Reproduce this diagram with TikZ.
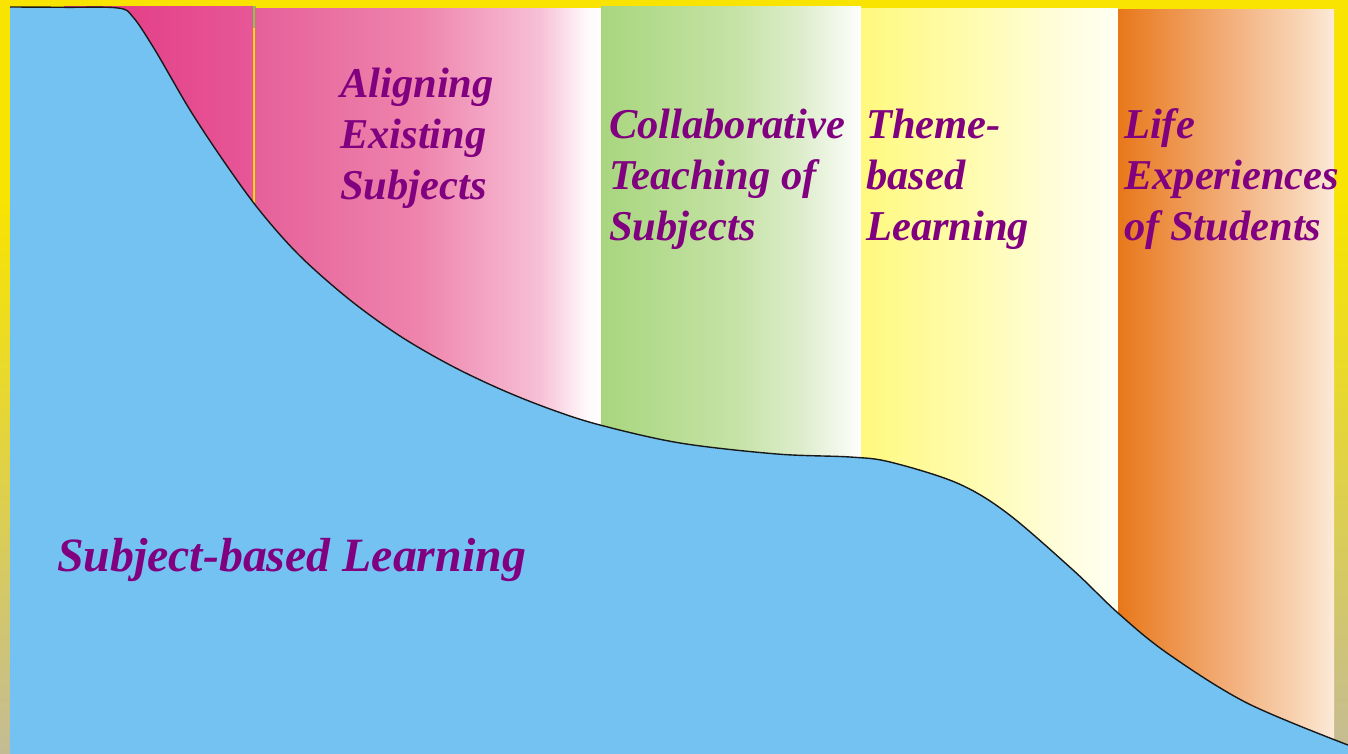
\documentclass[tikz,border=0pt]{standalone}
\usepackage{fontspec}
\setmainfont{Liberation Serif}
\definecolor{bgyel}{HTML}{F8E400}
\definecolor{bgmid}{HTML}{E9D92C}
\definecolor{bgtan}{HTML}{C4BB95}
\definecolor{magA}{HTML}{E23682}
\definecolor{magB}{HTML}{E75797}
\definecolor{pkA}{HTML}{E6609A}
\definecolor{pkB}{HTML}{EE84AC}
\definecolor{pkC}{HTML}{F7C0D6}
\definecolor{pkD}{HTML}{FFF8FB}
\definecolor{grA}{HTML}{A8D67E}
\definecolor{grB}{HTML}{C4E2A4}
\definecolor{grC}{HTML}{DDEDCC}
\definecolor{grD}{HTML}{F8FBF4}
\definecolor{ylA}{HTML}{FFF97E}
\definecolor{ylB}{HTML}{FFFCB8}
\definecolor{ylC}{HTML}{FFFEE4}
\definecolor{ylD}{HTML}{FFFFF2}
\definecolor{orA}{HTML}{E8781A}
\definecolor{orB}{HTML}{F2AD78}
\definecolor{orC}{HTML}{F8D4B4}
\definecolor{orD}{HTML}{FCEAD8}
\definecolor{sky}{HTML}{73C2F2}
\definecolor{labpurple}{HTML}{800080}
\definecolor{tinygreen}{HTML}{8CC63F}
\pgfdeclareverticalshading{bgshade}{100bp}{color(0bp)=(bgtan); color(25bp)=(bgtan); color(50bp)=(bgmid); color(62bp)=(bgyel); color(75bp)=(bgyel); color(100bp)=(bgyel)}
\pgfdeclarehorizontalshading{magshade}{100bp}{color(0bp)=(magA); color(25bp)=(magA); color(75bp)=(magB); color(100bp)=(magB)}
\pgfdeclarehorizontalshading{pinkshade}{100bp}{color(0bp)=(pkA); color(25bp)=(pkA); color(48.8bp)=(pkB); color(66.2bp)=(pkC); color(72.7bp)=(pkD); color(75bp)=(white); color(100bp)=(white)}
\pgfdeclarehorizontalshading{greenshade}{100bp}{color(0bp)=(grA); color(25bp)=(grA); color(50bp)=(grB); color(63.5bp)=(grC); color(73bp)=(grD); color(75bp)=(white); color(100bp)=(white)}
\pgfdeclarehorizontalshading{yellowshade}{100bp}{color(0bp)=(ylA); color(25bp)=(ylA); color(50bp)=(ylB); color(67.5bp)=(ylC); color(75bp)=(ylD); color(100bp)=(ylD)}
\pgfdeclarehorizontalshading{orangeshade}{100bp}{color(0bp)=(orA); color(25bp)=(orA); color(50bp)=(orB); color(67bp)=(orC); color(75bp)=(orD); color(100bp)=(orD)}
\tikzset{
  lbl/.style={anchor=base west, inner sep=0pt, text=labpurple,
    font=\fontsize{42.5}{51}\selectfont\bfseries\itshape},
  biglbl/.style={lbl, font=\fontsize{47.8}{56}\selectfont\bfseries\itshape},
  curveline/.style={draw=black!90, line width=1.4pt, line join=round}
}
\newcommand{\lines}[1]{\begin{tabular}[t]{@{}l@{}}#1\end{tabular}}
\begin{document}
\begin{tikzpicture}[x=1pt,y=-1pt]
\useasboundingbox (0,0) rectangle (1348,753);
% background
\shade[shading=bgshade] (0,0) rectangle (1348,753);
% bands
\shade[shading=magshade] (64,6) rectangle (253,700);
\fill[tinygreen] (253,6) rectangle (256,28);
\shade[shading=pinkshade] (255,8) rectangle (601,700);
\shade[shading=greenshade] (601,6) rectangle (861,700);
\shade[shading=yellowshade] (861,8) rectangle (1118,700);
\shade[shading=orangeshade] (1118,9) rectangle (1334,742);
% blue area
\fill[sky] (10,760) -- plot[smooth,tension=0.55] coordinates {(10,7) (65,7.3) (118,8) (133,17) (155,50) (190,110) (225,163) (260,211) (300,256) (350,300) (400,336) (450,365) (500,389) (550,409) (600,425) (680,443) (777,454) (850,457) (890,462) (957,483) (1007,513) (1073,570) (1118,613) (1167,653) (1247,703) (1348,745)} -- (1348,760) -- cycle;
\draw[curveline] plot[smooth,tension=0.55] coordinates {(10,7) (65,7.3) (118,8) (133,17) (155,50) (190,110) (225,163) (260,211) (300,256) (350,300) (400,336) (450,365) (500,389) (550,409) (600,425) (680,443) (777,454) (850,457) (890,462) (957,483) (1007,513) (1073,570) (1118,613) (1167,653) (1247,703) (1348,745)};
% labels
\node[lbl] (align) at (340,97) {\lines{Aligning\\Existing\\Subjects}};
\node[lbl] (collab) at (609,138) {\lines{Collaborative\\Teaching of\\Subjects}};
\node[lbl] (theme) at (866,138) {\lines{Theme-\\based\\Learning}};
\node[lbl] (life) at (1124,138) {\lines{Life\\Experiences\\of Students}};
\node[biglbl] (subj) at (57,571) {Subject-based Learning};
\end{tikzpicture}
\end{document}
